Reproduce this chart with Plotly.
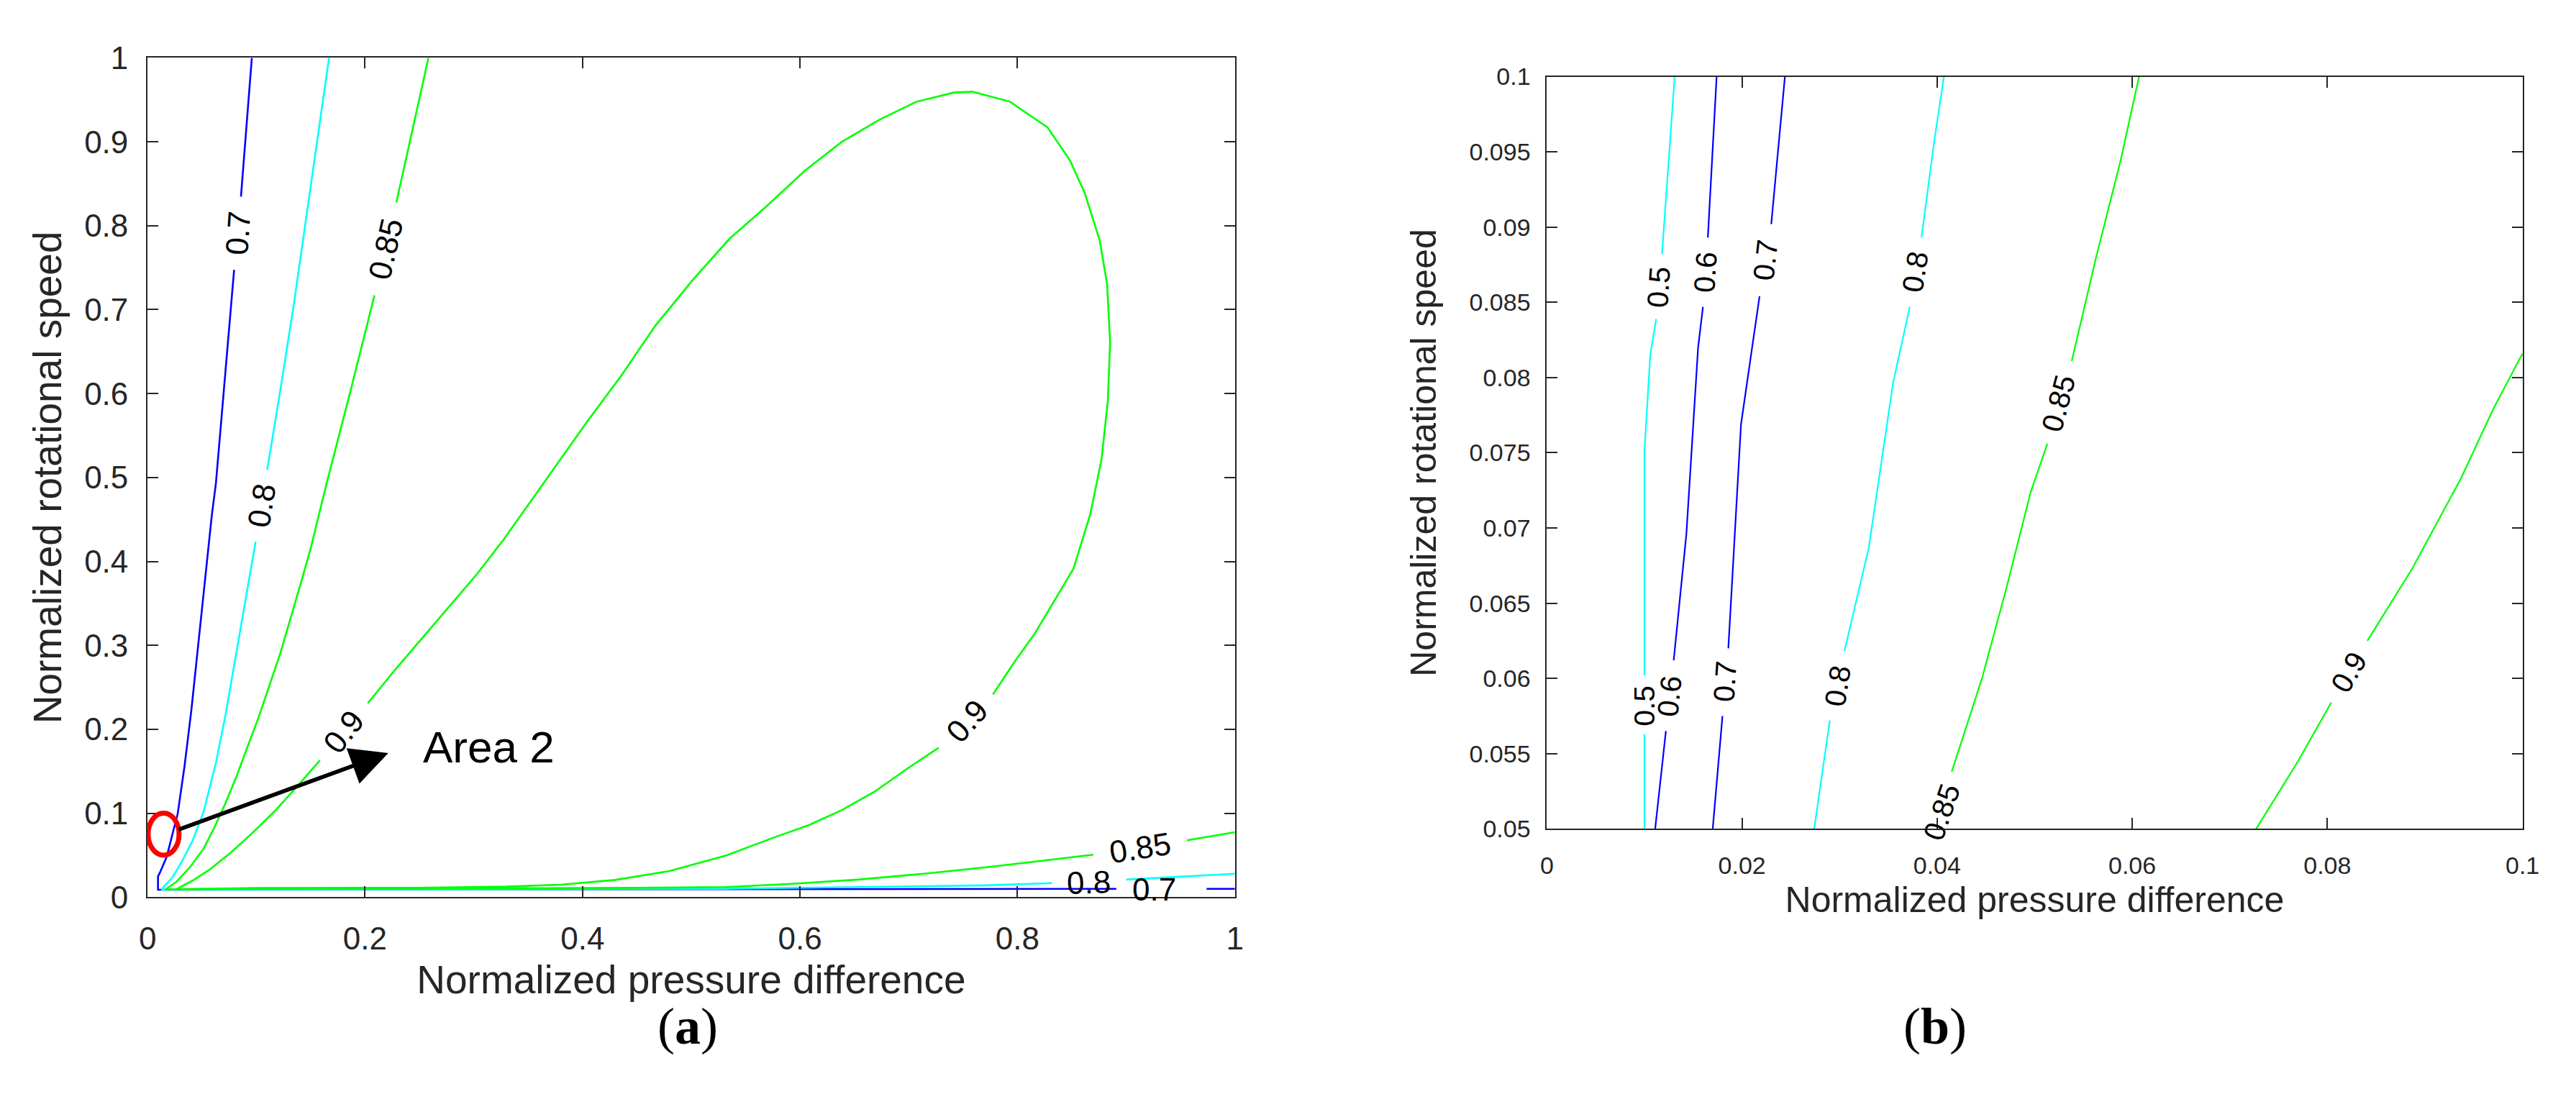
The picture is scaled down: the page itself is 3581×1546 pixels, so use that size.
import plotly.graph_objects as go

W, H = 3581, 1546

# ---------------- Panel (a): contour lines (x = normalized pressure difference, y = normalized speed)
A07_x = [0.0959, 0.0859, None, 0.0796, 0.0771, 0.0629, 0.0591, 0.0528, 0.0465, 0.0403, 0.034, 0.0277, 0.0239,
         0.0176, 0.0113, 0.0096, 0.0096, 0.3, 0.6, 0.8909, None, 0.9739, 1.0]
A07_y = [1.0, 0.8346, None, 0.7475, 0.7087, 0.4935, 0.455, 0.376, 0.30, 0.223, 0.156, 0.0992, 0.0801,
         0.048, 0.029, 0.0245, 0.0088, 0.009, 0.0095, 0.0099, None, 0.0099, 0.0099]

A08_x = [0.1669, 0.1485, 0.1348, 0.122, 0.110, None, 0.0994, 0.0931, 0.0868, 0.0793, 0.0717, 0.0629, 0.0516,
         0.0415, 0.0314, 0.0226, 0.0126, 0.3, 0.5324, 0.6534, 0.7714, 0.8319, None, 0.90, 0.9559, 1.0]
A08_y = [1.0, 0.8332, 0.7087, 0.603, 0.509, None, 0.4236, 0.376, 0.328, 0.271, 0.217, 0.16, 0.102,
         0.0674, 0.042, 0.0229, 0.009, 0.0093, 0.0100, 0.012, 0.014, 0.0167, None, 0.0209, 0.0245, 0.0278]

A085_x = [0.2583, 0.2288, None, 0.2087, 0.187, 0.1648, 0.157, 0.1497, 0.142, 0.132, 0.122, 0.112, 0.102, 0.0918,
          0.0818, 0.0717, 0.0616, 0.0516, 0.039, 0.0264, 0.0164, 0.1, 0.3, 0.45, 0.5324, 0.5929, 0.6534, 0.7139,
          0.7744, 0.8349, 0.8697, None, 0.9559, 1.0]
A085_y = [1.0, 0.8277, None, 0.717, 0.605, 0.4935, 0.452, 0.414, 0.379, 0.3345, 0.29, 0.252, 0.2137, 0.1787,
          0.1437, 0.112, 0.0833, 0.0579, 0.0356, 0.018, 0.0092, 0.0098, 0.0103, 0.011, 0.012, 0.0159, 0.0209, 0.0278,
          0.036, 0.0451, 0.0506, None, 0.0677, 0.0774]

A09_x = [0.0264, 0.0415, 0.0566, 0.0767, 0.0969, 0.117, 0.137, 0.1585, None, 0.2025, 0.2277, 0.2529, 0.278, 0.303,
         0.328, 0.366, 0.404, 0.436, 0.4667, 0.501, 0.5354, 0.5698, 0.6041, 0.6385, 0.6728, 0.7072, 0.7416, 0.7587,
         0.7931, 0.8275, 0.8481, 0.8618, 0.8756, 0.8824, 0.8852, 0.8831, 0.8773, 0.867, 0.8515, 0.8154, 0.7986,
         0.7774, None, 0.7275, 0.6988, 0.6686, 0.6383, 0.608, 0.5778, 0.5324, 0.48, 0.43, 0.38, 0.33, 0.25, 0.1,
         0.0264]
A09_y = [0.0094, 0.0197, 0.0324, 0.0531, 0.077, 0.1024, 0.131, 0.163, None, 0.231, 0.271, 0.309, 0.347, 0.385,
         0.427, 0.497, 0.566, 0.622, 0.6804, 0.7348, 0.7848, 0.8239, 0.8652, 0.9, 0.9261, 0.9478, 0.9587, 0.9596,
         0.9478, 0.9174, 0.8783, 0.8391, 0.7826, 0.7304, 0.6609, 0.5913, 0.5217, 0.4565, 0.3913, 0.313, 0.2828,
         0.2415, None, 0.178, 0.1532, 0.1256, 0.1036, 0.0857, 0.0719, 0.0498, 0.031, 0.0205, 0.0148, 0.0125, 0.0112,
         0.0108, 0.0094]

# contour labels of panel (a): text, x, y, angle
A_lab_text = ["0.7", "0.8", "0.85", "0.9", "0.9", "0.85", "0.8", "0.7"]
A_lab_x = [0.0828, 0.1045, 0.2187, 0.1800, 0.7535, 0.9128, 0.8655, 0.9257]
A_lab_y = [0.7911, 0.4663, 0.7723, 0.1970, 0.2095, 0.0590, 0.0175, 0.0090]
A_lab_ang = [-86, -81, -77, -52, -48, -9, -2, 0]

# ---------------- Panel (b): zoom of area 2
B05_x = [0.0100, 0.0100, None, 0.0100, 0.0100, 0.0106, 0.0112, None, 0.0118, 0.0131]
B05_y = [0.05, 0.0563, None, 0.0602, 0.0751, 0.0815, 0.0839, None, 0.0882, 0.1]
B06_x = [0.0111, 0.0122, None, 0.0130, 0.0143, 0.0155, 0.0160, None, 0.0165, 0.0174]
B06_y = [0.05, 0.0565, None, 0.0612, 0.0696, 0.082, 0.0847, None, 0.0893, 0.1]
B07_x = [0.017, 0.018, None, 0.0186, 0.0195, 0.0199, 0.0218, None, 0.023, 0.0244]
B07_y = [0.05, 0.0575, None, 0.062, 0.0724, 0.0769, 0.0854, None, 0.0902, 0.1]
B08_x = [0.0274, 0.029, None, 0.0305, 0.033, 0.0355, 0.0372, None, 0.0384, 0.0397, 0.0407]
B08_y = [0.05, 0.0572, None, 0.0618, 0.0687, 0.0797, 0.0847, None, 0.0893, 0.0957, 0.1]
B085_x = [0.0415, 0.0446, 0.0471, 0.0496, 0.0513, None, 0.0538, 0.0563, 0.0588, 0.0607]
B085_y = [0.0538, 0.06, 0.066, 0.0724, 0.0756, None, 0.0811, 0.088, 0.0944, 0.1]
B09_x = [0.0727, 0.077, 0.0804, None, 0.0841, 0.0887, 0.0937, 0.097, 0.1]
B09_y = [0.05, 0.0545, 0.0584, None, 0.0625, 0.0673, 0.0733, 0.0779, 0.0816]

B_lab_text = ["0.5", "0.6", "0.7", "0.8", "0.85", "0.5", "0.6", "0.7", "0.8", "0.85", "0.9"]
B_lab_x = [0.0115, 0.0163, 0.0224, 0.0378, 0.0525, 0.0100, 0.0126, 0.0183, 0.0298, 0.0405, 0.0822]
B_lab_y = [0.0860, 0.0870, 0.0878, 0.0870, 0.0783, 0.0582, 0.0588, 0.0598, 0.0595, 0.0511, 0.0604]
B_lab_ang = [-86, -86, -84, -81, -75, -90, -84, -86, -81, -71, -60]

# ticks
A_xticks = [0, 0.2, 0.4, 0.6, 0.8, 1.0]
A_xtext = ["0", "0.2", "0.4", "0.6", "0.8", "1"]
A_yticks = [0, 0.1, 0.2, 0.3, 0.4, 0.5, 0.6, 0.7, 0.8, 0.9, 1.0]
A_ytext = ["0", "0.1", "0.2", "0.3", "0.4", "0.5", "0.6", "0.7", "0.8", "0.9", "1"]
B_xticks = [0, 0.02, 0.04, 0.06, 0.08, 0.1]
B_xtext = ["0", "0.02", "0.04", "0.06", "0.08", "0.1"]
B_yticks = [0.05, 0.055, 0.06, 0.065, 0.07, 0.075, 0.08, 0.085, 0.09, 0.095, 0.1]
B_ytext = ["0.05", "0.055", "0.06", "0.065", "0.07", "0.075", "0.08", "0.085", "0.09", "0.095", "0.1"]

# marker of area 2 (ellipse) and arrow
AREA_X = [0.0005, 0.029]
AREA_Y = [0.05, 0.10]
ARROW_TAIL = (0.0277, 0.0801)
ARROW_HEAD = (0.2214, 0.1717)

BLUE, CYAN, GREEN = "#0000FF", "#00FFFF", "#00FF00"
SANS = "Liberation Sans, Arial, sans-serif"
SERIF = "Liberation Serif, Times New Roman, serif"
AX = "#262626"

fig = go.Figure()

for xs, ys, col in [(A07_x, A07_y, BLUE), (A08_x, A08_y, CYAN), (A085_x, A085_y, GREEN), (A09_x, A09_y, GREEN)]:
    fig.add_trace(go.Scatter(x=xs, y=ys, mode="lines", line=dict(color=col, width=2.6),
                             xaxis="x", yaxis="y", showlegend=False, hoverinfo="skip", connectgaps=False))

for xs, ys, col in [(B05_x, B05_y, CYAN), (B06_x, B06_y, BLUE), (B07_x, B07_y, BLUE), (B08_x, B08_y, CYAN),
                    (B085_x, B085_y, GREEN), (B09_x, B09_y, GREEN)]:
    fig.add_trace(go.Scatter(x=xs, y=ys, mode="lines", line=dict(color=col, width=2.2),
                             xaxis="x2", yaxis="y2", showlegend=False, hoverinfo="skip", connectgaps=False))

annotations = []
for t, x, y, a in zip(A_lab_text, A_lab_x, A_lab_y, A_lab_ang):
    annotations.append(dict(text=t, x=x, y=y, xref="x", yref="y", showarrow=False, textangle=a,
                            font=dict(family=SANS, size=44, color="black")))
for t, x, y, a in zip(B_lab_text, B_lab_x, B_lab_y, B_lab_ang):
    annotations.append(dict(text=t, x=x, y=y, xref="x2", yref="y2", showarrow=False, textangle=a,
                            font=dict(family=SANS, size=41, color="black")))

annotations.append(dict(text="", x=ARROW_HEAD[0], y=ARROW_HEAD[1], xref="x", yref="y",
                        ax=ARROW_TAIL[0], ay=ARROW_TAIL[1], axref="x", ayref="y",
                        showarrow=True, arrowhead=2, arrowsize=1.9, arrowwidth=5.5, arrowcolor="black",
                        standoff=0, startstandoff=0))
annotations.append(dict(text="Area 2", x=0.2517, y=0.179, xref="x", yref="y", xanchor="left", yanchor="middle",
                        showarrow=False, font=dict(family=SANS, size=62, color="black")))
annotations.append(dict(text="(<b>a</b>)", x=901 / W, y=1 - 1483 / H, xref="paper", yref="paper",
                        showarrow=False, font=dict(family=SERIF, size=72, color="black")))
annotations.append(dict(text="(<b>b</b>)", x=2744 / W, y=1 - 1483 / H, xref="paper", yref="paper",
                        showarrow=False, font=dict(family=SERIF, size=72, color="black")))

common = dict(showgrid=False, zeroline=False, showline=True, linecolor=AX, linewidth=2, mirror="allticks",
              ticks="inside", tickcolor=AX, tickwidth=2)

fig.update_layout(
    width=W, height=H, autosize=False,
    margin=dict(l=0, r=0, t=0, b=0),
    paper_bgcolor="white", plot_bgcolor="white",
    showlegend=False,
    xaxis=dict(domain=[187 / W, 1714 / W], range=[0, 1], anchor="y", tickvals=A_xticks, ticktext=A_xtext,
               ticklen=15, tickfont=dict(family=SANS, size=44, color=AX), ticklabelstandoff=18,
               title=dict(text="Normalized pressure difference", font=dict(family=SANS, size=55, color=AX),
                          standoff=14), **common),
    yaxis=dict(domain=[1 - 1254 / H, 1 - 49 / H], range=[0, 1], anchor="x", tickvals=A_yticks, ticktext=A_ytext,
               ticklen=15, tickfont=dict(family=SANS, size=44, color=AX), ticklabelstandoff=16,
               title=dict(text="Normalized rotational speed", font=dict(family=SANS, size=55, color=AX),
                          standoff=14), **common),
    xaxis2=dict(domain=[2152 / W, 3522 / W], range=[0, 0.1], anchor="y2", tickvals=B_xticks, ticktext=B_xtext,
                ticklen=15, tickfont=dict(family=SANS, size=34, color=AX), ticklabelstandoff=20,
                title=dict(text="Normalized pressure difference", font=dict(family=SANS, size=50, color=AX),
                           standoff=12), **common),
    yaxis2=dict(domain=[1 - 1156 / H, 1 - 76 / H], range=[0.05, 0.1], anchor="x2", tickvals=B_yticks,
                ticktext=B_ytext, ticklen=15, tickfont=dict(family=SANS, size=34, color=AX), ticklabelstandoff=14,
                title=dict(text="Normalized rotational speed", font=dict(family=SANS, size=50, color=AX),
                           standoff=30), **common),
    shapes=[dict(type="circle", xref="x", yref="y", x0=AREA_X[0], x1=AREA_X[1], y0=AREA_Y[0], y1=AREA_Y[1],
                 line=dict(color="#FF0000", width=7), layer="above")],
    annotations=annotations,
)

fig.write_html("out.html")
